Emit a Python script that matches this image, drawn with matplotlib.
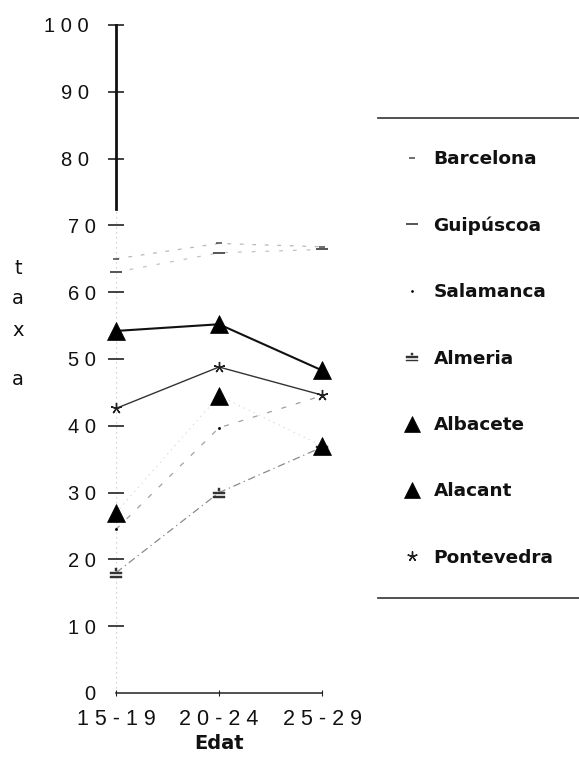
import matplotlib
matplotlib.use("Agg")
import matplotlib.pyplot as plt
from matplotlib.lines import Line2D

# ---- data ----
age_groups = ["15-19", "20-24", "25-29"]
barcelona = [65.0, 67.3, 66.8]
guipuscoa = [63.0, 65.9, 66.4]
salamanca = [24.5, 39.7, 44.5]
almeria = [18.0, 30.0, 36.8]
albacete = [27.0, 44.5, 37.0]
alacant = [54.2, 55.2, 48.3]
pontevedra = [42.6, 48.8, 44.6]
y_ticks = [0, 10, 20, 30, 40, 50, 60, 70, 80, 90, 100]
series_names = ["Barcelona", "Guipúscoa", "Salamanca", "Almeria",
                "Albacete", "Alacant", "Pontevedra"]

W, H = 579, 775
fig = plt.figure(figsize=(W / 100, H / 100), dpi=100)
fig.patch.set_facecolor("white")

# axes: x from 116 px to 322 px, y 0 at 693 px, 100 at 25 px
left, right = 116, 322
y0, y100 = 693, 25
ax = fig.add_axes([left / W, (H - y0) / H, (right - left) / W, (y0 - y100) / H])
ax.set_xlim(0, 2)
ax.set_ylim(0, 100)
ax.patch.set_alpha(0)

x = list(range(len(age_groups)))

styles = [
    dict(data=barcelona, color="#b8b8b8", ls=(0, (3, 7)), lw=0.9, marker="_", ms=5, mew=1.2, mfc="k", mec="#555"),
    dict(data=guipuscoa, color="#c2c2c2", ls=(0, (3, 8)), lw=0.9, marker="_", ms=9, mew=1.4, mfc="k", mec="#555"),
    dict(data=salamanca, color="#a0a0a0", ls=(0, (4, 8)), lw=0.9, marker=".", ms=3, mew=0.5, mfc="k", mec="k"),
    dict(data=almeria, color="#8a8a8a", ls=(0, (6, 3, 1, 3)), lw=0.9, marker="$\\doteq$", ms=9, mew=0.3, mfc="#333", mec="#333"),
    dict(data=albacete, color="#d2d2d2", ls=(0, (1, 4)), lw=0.8, marker="^", ms=12.5, mew=0.5, mfc="k", mec="k"),
    dict(data=alacant, color="#111111", ls="-", lw=1.5, marker="^", ms=12.5, mew=0.5, mfc="k", mec="k"),
    dict(data=pontevedra, color="#333333", ls="-", lw=1.0, marker=(5, 2, 0), ms=8, mew=1.0, mfc="k", mec="#222"),
]

handles = []
for name, st in zip(series_names, styles):
    ln, = ax.plot(x, st["data"], color=st["color"], ls=st["ls"], lw=st["lw"],
                  marker=st["marker"], ms=st["ms"], mew=st["mew"],
                  mfc=st["mfc"], mec=st["mec"], clip_on=False, zorder=3,
                  label=name)
    h = Line2D([], [], ls="none", marker=st["marker"], ms=st["ms"] * 0.9,
               mew=st["mew"], mfc=st["mfc"], mec=st["mec"])
    handles.append(h)

# spines
for s in ["top", "right"]:
    ax.spines[s].set_visible(False)
ax.spines["left"].set_bounds(72.5, 100)
ax.spines["left"].set_linewidth(2.0)
ax.spines["left"].set_color("#111")
ax.spines["bottom"].set_bounds(0, 2)
ax.spines["bottom"].set_linewidth(1.1)
ax.spines["bottom"].set_color("#222")
ax.axvline(0, ymin=0, ymax=0.725, ls=(0, (1, 3)), color="#c4c4c4", lw=0.9, zorder=1)

# y ticks
ax.set_yticks(y_ticks)
ax.set_yticklabels([" ".join(str(v)) for v in y_ticks],
                   fontfamily="Liberation Sans", fontsize=14.5, color="#111")
ax.tick_params(axis="y", direction="inout", length=11, width=1.2, color="#222")
for v, t in zip(y_ticks, ax.yaxis.get_major_ticks()):
    if v >= 80:
        t.tick1line.set_markersize(15)
        t.tick1line.set_markeredgewidth(2.0)
        t.set_pad(14)
    else:
        t.set_pad(9)
    if v == 0:
        t.tick1line.set_visible(False)

# x ticks
ax.set_xticks(x)
ax.set_xticklabels([" ".join(a) for a in age_groups],
                   fontfamily="Liberation Sans", fontsize=15.5, color="#111")
ax.tick_params(axis="x", direction="inout", length=5, width=0.8, pad=9, color="#222")
ax.set_xlabel("Edat", fontfamily="DejaVu Sans", fontweight="bold",
              fontsize=14, color="#111", labelpad=3)

# vertical y-label letters
for ch, yp in zip(["t", "a", "x", "a"], [268, 298, 330, 380]):
    fig.text(18 / W, 1 - yp / H, ch, fontfamily="DejaVu Sans", fontsize=14,
             color="#111", ha="center", va="center")

# legend
leg = fig.legend(handles, series_names, loc="upper left",
                 bbox_to_anchor=(403 / W, 1 - 150 / H), frameon=False,
                 prop=dict(family="DejaVu Sans", weight="bold", size=13.3),
                 handlelength=1.0, handletextpad=0.65, labelspacing=2.62,
                 borderpad=0, borderaxespad=0)
for t in leg.get_texts():
    t.set_color("#111")

fig.add_artist(Line2D([378 / W, 1.0], [1 - 118 / H, 1 - 118 / H], color="#333", lw=1.2))
fig.add_artist(Line2D([378 / W, 1.0], [1 - 598 / H, 1 - 598 / H], color="#333", lw=1.2))

fig.savefig("out.png", dpi=100, facecolor="white")
